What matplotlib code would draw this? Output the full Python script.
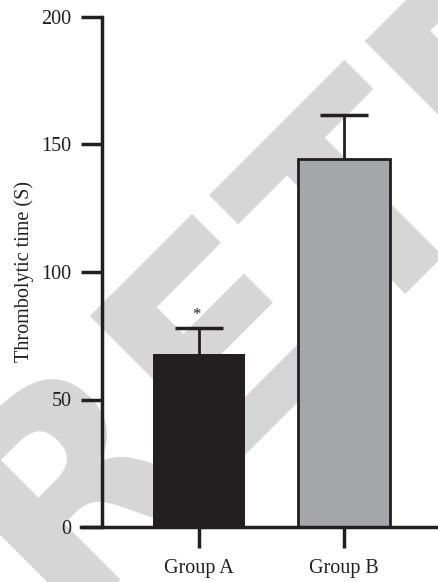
import matplotlib
matplotlib.use('Agg')
import matplotlib.pyplot as plt
import numpy as np

# data
groups = ['Group A', 'Group B']
means = [67.7, 144.2]
errs = [10.2, 17.2]
colors = ['#231f20', '#a5a6aa']
yticks = [0, 50, 100, 150, 200]

plt.rcParams['font.family'] = 'Liberation Serif'
ink = '#231f20'

fig = plt.figure(figsize=(4.39, 5.82), dpi=100)
ax = fig.add_axes([102/439, 55/582, 1 - 102/439, 510/582])
ax.patch.set_alpha(0)

# light gray watermark behind the chart
fig.text(0.13, -0.06, 'RETRACTED', fontsize=205, fontweight='bold',
         family='DejaVu Sans', color='#d6d6d6', rotation=45,
         rotation_mode='anchor', ha='left', va='baseline', zorder=-1)

x = np.arange(len(groups))
ax.bar(x, means, width=0.634, color=colors, edgecolor=ink, linewidth=[0, 2],
       zorder=2)
tops = np.array(means) + np.array(errs)
ax.vlines(x, means, tops, color=ink, linewidth=2, zorder=3)
ax.hlines(tops, x - 0.165, x + 0.165, color=ink, linewidth=2.5, zorder=3)
ax.text(x[0] - 0.02, tops[0] + 2, '*', ha='center', va='bottom',
        fontsize=12, color=ink)

ax.set_xlim(-0.669, 1.655)
ax.set_ylim(0, 200)
ax.set_yticks(yticks)
ax.set_xticks(x)
ax.set_xticklabels(groups)

for s in ['top', 'right']:
    ax.spines[s].set_visible(False)
for s in ['left', 'bottom']:
    ax.spines[s].set_linewidth(2.5)
    ax.spines[s].set_color(ink)
ax.spines['bottom'].set_bounds(-0.669 - 21/145, 1.655)
ax.spines['bottom'].set_clip_on(False)

ax.tick_params(axis='y', length=15, width=2.5, color=ink, labelsize=14.5,
               labelcolor=ink, pad=7)
ax.tick_params(axis='x', length=15, width=2.5, color=ink, labelsize=14.5,
               labelcolor=ink, pad=8)
ax.set_ylabel('Thrombolytic time (S)', fontsize=14.5, color=ink, labelpad=5)

fig.savefig('out.png', dpi=100)
